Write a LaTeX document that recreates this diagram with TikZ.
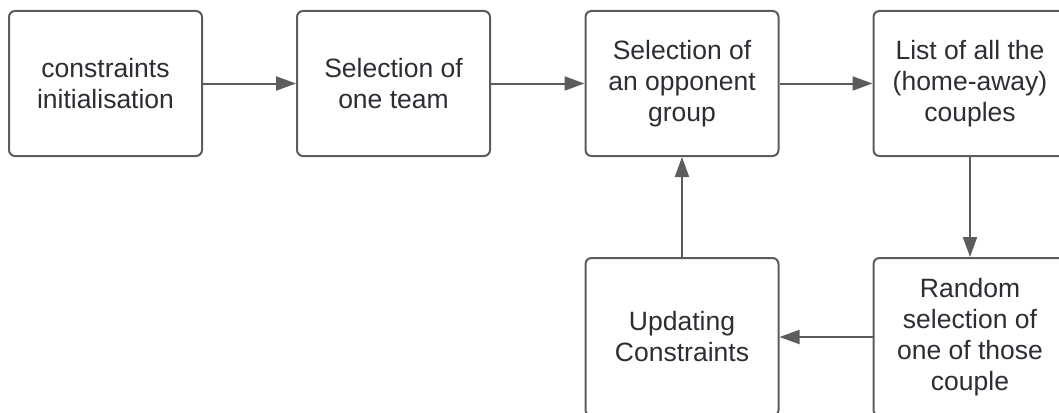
\documentclass[tikz,border=0pt]{standalone}
\usepackage{fontspec}
\setmainfont{Liberation Sans}
\usetikzlibrary{arrows.meta}
\definecolor{linec}{HTML}{5C5C5C}
\definecolor{textc}{HTML}{2B2E33}
\begin{document}
\begin{tikzpicture}[x=1pt,y=-1pt,
  box/.style={draw=linec, line width=2pt, rounded corners=6pt, fill=white,
    minimum width=193pt, minimum height=145pt, inner sep=0pt, align=center,
    text=textc, font=\fontsize{26.5}{31}\selectfont},
  tallbox/.style={box, minimum height=158pt},
  arr/.style={draw=linec, line width=2pt, -{Triangle[length=20pt,width=14pt]}}]
\useasboundingbox (0,0) rectangle (1059,412);
\node[box] (b1) at (105.5,83.5) {constraints\\initialisation};
\node[box] (b2) at (393.5,83.5) {Selection of\\one team};
\node[box] (b3) at (682,83.5) {Selection of\\an opponent\\group};
\node[box] (b4) at (970,83.5) {List of all the\\(home-away)\\couples};
\node[tallbox] (b5) at (970,337) {Random\\selection of\\one of those\\couple};
\node[tallbox] (b6) at (682,337) {Updating\\Constraints};
\draw[arr] (b1) -- (b2);
\draw[arr] (b2) -- (b3);
\draw[arr] (b3) -- (b4);
\draw[arr] (b4) -- (b5);
\draw[arr] (b5) -- (b6);
\draw[arr] (b6) -- (b3);
\end{tikzpicture}
\end{document}
